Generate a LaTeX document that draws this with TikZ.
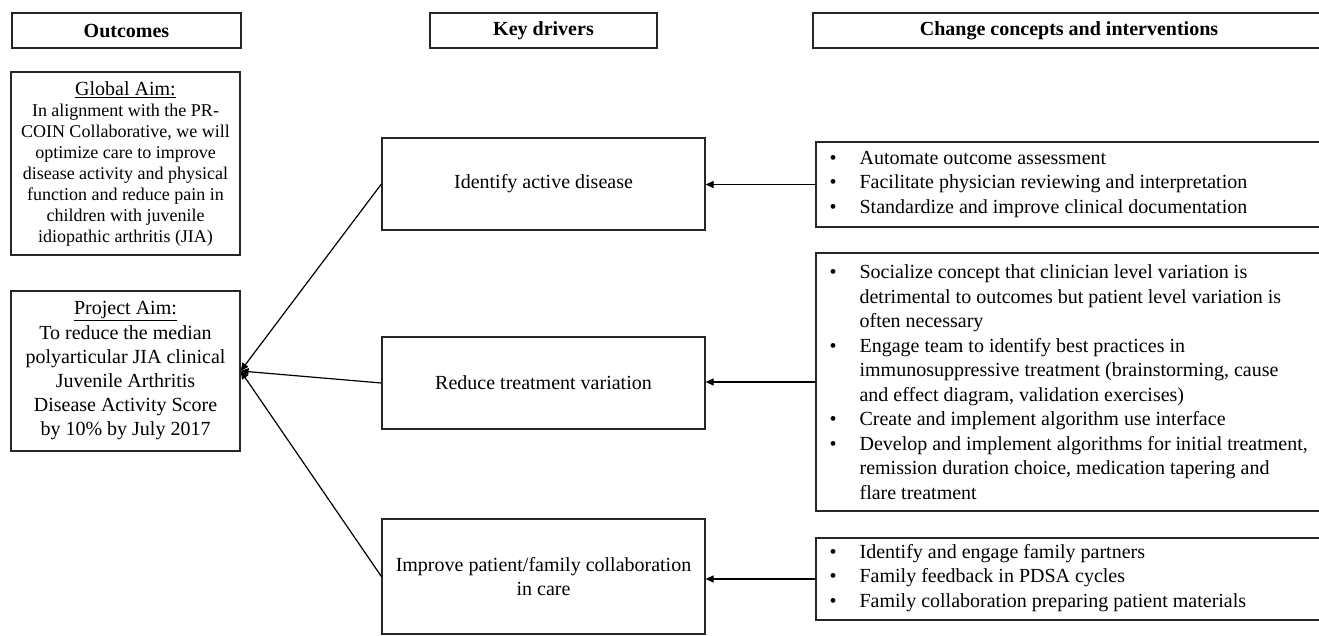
\documentclass[tikz,border=0pt]{standalone}
\usepackage{fontspec}
\setmainfont{Liberation Serif}
\usetikzlibrary{arrows.meta}
\newcommand{\bl}{\makebox[44pt][l]{\hspace*{14pt}•}}
\newcommand{\nb}{\makebox[44pt][l]{}}
\begin{document}
\begin{tikzpicture}[x=1pt,y=-1pt,
  box/.style={draw=black!85, line width=1.2pt, inner sep=0pt},
  hdr/.style={box, minimum height=35pt, font=\fontsize{20}{24}\selectfont\bfseries},
  drv/.style={box, minimum width=323pt, align=center, font=\fontsize{20}{24}\selectfont},
  cibox/.style={box},
  citext/.style={anchor=west, inner sep=0pt, align=left, font=\fontsize{20}{24.5}\selectfont},
  arr/.style={line width=1.2pt, -{Triangle[length=8pt,width=7pt]}}]
\useasboundingbox (0,0) rectangle (1319,635);
\fill[white] (0,0) rectangle (1319,635);
% headers
\node[hdr, minimum width=229pt] (h1) at (126.5,30.5) {Outcomes};
\node[hdr, minimum width=227pt] (h2) at (543.5,30.5) {Key drivers};
\node[hdr, minimum width=512pt] (h3) at (1069,30.5) {Change concepts and interventions};
% outcomes
\node[box, minimum width=229pt, minimum height=183pt, align=center,
  font=\fontsize{18}{21}\selectfont] (ga) at (125.5,163.5)
  {{\fontsize{20}{21}\selectfont\underline{Global Aim:}}\\
   In alignment with the PR-\\COIN Collaborative, we will\\optimize care to improve\\
   disease activity and physical\\function and reduce pain in\\children with juvenile\\
   idiopathic arthritis (JIA)};
\node[box, minimum width=229pt, minimum height=160pt, align=center,
  font=\fontsize{20}{24.2}\selectfont] (pa) at (125.5,371)
  {\underline{Project Aim:}\\To reduce the median\\polyarticular JIA clinical\\
   Juvenile Arthritis\\Disease Activity Score\\by 10\% by July 2017};
% drivers
\node[drv, minimum height=92pt] (d1) at (543.5,184) {Identify active disease};
\node[drv, minimum height=92pt] (d2) at (543.5,383) {Reduce treatment variation};
\node[drv, minimum height=115pt] (d3) at (543.5,576.5) {Improve patient/family collaboration\\in care};
% change concepts
\node[cibox, minimum width=509pt, minimum height=85pt] (c1) at (1070.5,184.5) {};
\node[citext] (c1t) at (c1.west) {\bl Automate outcome assessment\\
  \bl Facilitate physician reviewing and interpretation\\
  \bl Standardize and improve clinical documentation};
\node[cibox, minimum width=509pt, minimum height=258pt] (c2) at (1070.5,382) {};
\node[citext] (c2t) at (c2.west) {\bl Socialize concept that clinician level variation is\\
  \nb detrimental to outcomes but patient level variation is\\
  \nb often necessary\\
  \bl Engage team to identify best practices in\\
  \nb immunosuppressive treatment (brainstorming, cause\\
  \nb and effect diagram, validation exercises)\\
  \bl Create and implement algorithm use interface\\
  \bl Develop and implement algorithms for initial treatment,\\
  \nb remission duration choice, medication tapering and\\
  \nb flare treatment};
\node[cibox, minimum width=509pt, minimum height=82pt] (c3) at (1070.5,579) {};
\node[citext] (c3t) at ([yshift=1pt]c3.west) {\bl Identify and engage family partners\\
  \bl Family feedback in PDSA cycles\\
  \bl Family collaboration preparing patient materials};
% connectors
\draw[arr] (c1.west) -- (c1.west -| d1.east);
\draw[arr] (c2.west) -- (c2.west -| d2.east);
\draw[arr] (c3.west) -- (c3.west -| d3.east);
\draw[arr] (d1.west) -- (pa.east);
\draw[arr] (d2.west) -- (pa.east);
\draw[arr] (d3.west) -- (pa.east);
\end{tikzpicture}
\end{document}
